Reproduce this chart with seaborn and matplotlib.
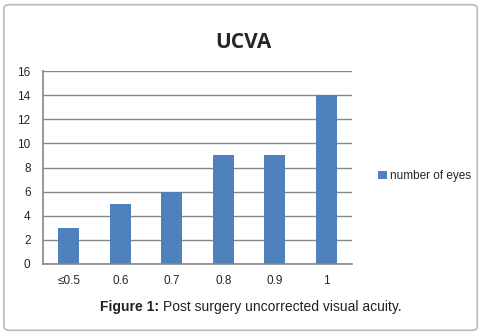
import seaborn as sns
import matplotlib.pyplot as plt
import pandas as pd
from matplotlib.patches import FancyBboxPatch

categories = ["≤0.5", "0.6", "0.7", "0.8", "0.9", "1"]
eyes = [3, 5, 6, 9, 9, 14]
series_name = "number of eyes"

df = pd.DataFrame({"acuity": categories, "eyes": eyes})

sns.set_style("white")
plt.rcParams['font.family'] = ['Liberation Sans', 'DejaVu Sans']

fig = plt.figure(figsize=(4.87, 3.35), dpi=100)
ax = fig.add_axes([0.0883, 0.212, 0.6345, 0.576])

# rounded frame around the whole figure
fig.patches.append(FancyBboxPatch((0.008, 0.014), 0.972, 0.972, boxstyle="round,pad=0,rounding_size=0.012",
                                  transform=fig.transFigure, fill=False, edgecolor="#b8b8b8", linewidth=1.2))

sns.barplot(data=df, x="acuity", y="eyes", color="#4F81BD", width=0.4, ax=ax,
            label=series_name, saturation=1, linewidth=0)

ax.set_ylim(0, 16)
ax.set_yticks(range(0, 17, 2))
ax.set_xlim(-0.5, 5.5)
ax.yaxis.grid(True, color="#868686", linewidth=1)
ax.set_axisbelow(True)
for s in ["top", "right"]:
    ax.spines[s].set_visible(False)
for s in ["left", "bottom"]:
    ax.spines[s].set_color("#868686")
    ax.spines[s].set_linewidth(1.2)

# boundary ticks between categories, labels centred under bars
ax.set_xticks([i - 0.5 for i in range(7)], minor=False)
ax.set_xticklabels([])
ax.set_xticks(range(6), minor=True)
ax.set_xticklabels(categories, minor=True)
ax.tick_params(axis="x", which="major", length=5, color="#868686", width=1.2, direction="out")
ax.tick_params(axis="x", which="minor", length=0, pad=8, labelsize=8.5)
ax.tick_params(axis="y", length=5, color="#868686", width=1.2, direction="out", labelsize=8.5, pad=4)
ax.set_xlabel("")
ax.set_ylabel("")

ax.legend(handles=ax.patches[:1], labels=[series_name], loc="center left",
          bbox_to_anchor=(0.755, 0.475), bbox_transform=fig.transFigure,
          frameon=False, fontsize=8.5, handlelength=0.7, handleheight=0.7, handletextpad=0.3)

fig.text(0.5, 0.872, "UCVA", ha="center", va="center", fontsize=15, fontweight="bold",
         family=["Open Sans", "DejaVu Sans"])
cap = fig.text(0.205, 0.083, "Figure 1:", ha="left", va="center", fontsize=10, fontweight="bold", color="#231f20")
fig.canvas.draw()
bb = cap.get_window_extent()
fig.text(bb.x1 / fig.bbox.width + 0.008, 0.083, "Post surgery uncorrected visual acuity.",
         ha="left", va="center", fontsize=10, color="#231f20")

fig.savefig("out.png", dpi=100)
